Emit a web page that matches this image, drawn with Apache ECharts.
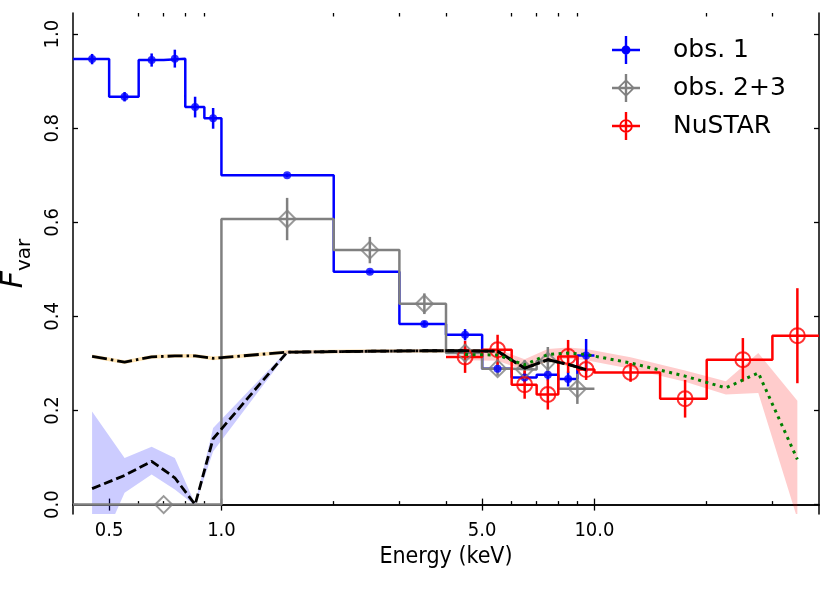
<!DOCTYPE html>
<html>
<head>
<meta charset="utf-8">
<script src="https://cdn.jsdelivr.net/npm/echarts@6/dist/echarts.min.js"></script>
<style>
html,body{margin:0;padding:0;background:#fff}
#chart{width:831px;height:591px}
</style>
</head>
<body>
<div id="chart"></div>
<script>
// obs. 1 (blue) : bin edges, bin centres, Fvar, error
const obs1Edges = [0.4, 0.5, 0.6, 0.7, 0.8, 0.9, 1, 2, 3, 4, 5, 6, 7, 8, 9, 10];
const obs1E = [0.45, 0.55, 0.65, 0.75, 0.85, 0.95, 1.5, 2.5, 3.5, 4.5, 5.5, 6.5, 7.5, 8.5, 9.5];
const obs1F = [0.947, 0.867, 0.945, 0.948, 0.845, 0.821, 0.700, 0.495, 0.384, 0.361, 0.289, 0.270, 0.276, 0.267, 0.317];
const obs1Err = [0.011, 0.010, 0.014, 0.019, 0.022, 0.022, 0.004, 0.004, 0.006, 0.012, 0.008, 0.010, 0.012, 0.016, 0.035];

// obs. 2+3 (gray)
const obs23Edges = [0.4, 1, 2, 3, 4, 5, 6, 7, 8, 10];
const obs23E = [0.7, 1.5, 2.5, 3.5, 4.5, 5.5, 6.5, 7.5, 9.0];
const obs23F = [0.0, 0.607, 0.541, 0.427, 0.322, 0.289, 0.287, 0.305, 0.246];
const obs23Err = [0.0, 0.045, 0.028, 0.022, 0.020, 0.015, 0.020, 0.030, 0.032];

// NuSTAR (red)
const nuEdges = [4, 5, 6, 7, 8, 9, 10, 15, 20, 30, 40];
const nuE = [4.5, 5.5, 6.5, 7.5, 8.5, 9.5, 12.5, 17.5, 25, 35];
const nuF = [0.314, 0.329, 0.255, 0.234, 0.315, 0.287, 0.281, 0.225, 0.308, 0.359];
const nuErr = [0.034, 0.032, 0.030, 0.032, 0.035, 0.022, 0.020, 0.040, 0.046, 0.101];

// models for the XMM bands
const modelE = [0.45, 0.55, 0.65, 0.75, 0.85, 0.95, 1.5, 2.5, 3.5, 4.5, 5.5, 6.5, 7.5, 8.5, 9.5];
const model1 = [0.315, 0.303, 0.314, 0.316, 0.316, 0.311, 0.324, 0.326, 0.327, 0.327, 0.326, 0.290, 0.308, 0.298, 0.287];
const model1Lo = [0.311, 0.299, 0.310, 0.312, 0.312, 0.307, 0.320, 0.322, 0.323, 0.323, 0.322, 0.286, 0.304, 0.294, 0.283];
const model1Hi = [0.319, 0.307, 0.318, 0.320, 0.320, 0.315, 0.328, 0.330, 0.331, 0.331, 0.330, 0.294, 0.312, 0.302, 0.291];
const model23 = [0.034, 0.062, 0.092, 0.057, 0.000, 0.140, 0.324, 0.326, 0.327, 0.327, 0.326, 0.290, 0.308, 0.298, 0.287];
const model23Lo = [-0.130, 0.025, 0.064, 0.032, -0.002, 0.113, 0.321, 0.323, 0.324, 0.324, 0.323, 0.287, 0.305, 0.295, 0.284];
const model23Hi = [0.198, 0.099, 0.123, 0.099, 0.002, 0.163, 0.327, 0.329, 0.330, 0.330, 0.329, 0.293, 0.311, 0.301, 0.290];

// NuSTAR model
const nuModelE = [4.5, 5.5, 6.5, 7.5, 8.5, 9.5, 12.5, 17.5, 22.5, 27.5, 35];
const nuModel = [0.319, 0.318, 0.297, 0.319, 0.322, 0.319, 0.301, 0.273, 0.248, 0.280, 0.096];
const nuModelLo = [0.307, 0.306, 0.285, 0.307, 0.310, 0.307, 0.289, 0.261, 0.234, 0.237, -0.030];
const nuModelHi = [0.331, 0.330, 0.309, 0.331, 0.334, 0.331, 0.313, 0.285, 0.262, 0.322, 0.221];

// axis ticks
const xLabelTicks = [0.5, 1, 5, 10];
const xMinorTicks = [0.6, 0.7, 0.8, 0.9, 2, 3, 4, 6, 7, 8, 9, 20, 30];
const yTicks = [0, 0.2, 0.4, 0.6, 0.8, 1.0];

const AX_FONT = "'DejaVu Sans Condensed', 'DejaVu Sans', sans-serif";
const grid = {left: 73, top: 13, right: 12, bottom: 77, containLabel: false, outerBoundsMode: 'none'};

function steps(edges, vals) {
  const pts = [];
  vals.forEach((v, i) => {
    pts.push([edges[i], v]);
    pts.push([edges[i + 1], v]);
  });
  return pts;
}
function pairs(xs, ys) {
  return xs.map((x, i) => [x, ys[i]]);
}
function band(xs, lo, hi, color) {
  return {
    type: 'custom', silent: true, z: 1, data: [[1, 0.5]], encode: {x: 0, y: 1},
    renderItem: function (params, api) {
      const pts = [];
      xs.forEach((x, i) => pts.push(api.coord([x, hi[i]])));
      for (let i = xs.length - 1; i >= 0; i--) pts.push(api.coord([xs[i], lo[i]]));
      const cs = params.coordSys;
      return {
        type: 'polygon', shape: {points: pts}, style: {fill: color},
        clipPath: {type: 'rect', shape: {x: cs.x, y: cs.y, width: cs.width, height: cs.height}}
      };
    }
  };
}
function errBars(xs, ys, es, color) {
  return {
    type: 'custom', silent: true, z: 3,
    data: xs.map((x, i) => [x, ys[i], es[i]]), encode: {x: 0, y: 1},
    renderItem: function (params, api) {
      const x = api.value(0), y = api.value(1), e = api.value(2);
      if (!e) return;
      const a = api.coord([x, y - e]), b = api.coord([x, y + e]);
      return {type: 'line', shape: {x1: a[0], y1: a[1], x2: b[0], y2: b[1]},
              style: {stroke: color, lineWidth: 2.5}};
    }
  };
}
function stepLine(name, edges, vals, color) {
  return {type: 'line', name: name, data: steps(edges, vals), symbol: 'none', silent: true, z: 2,
          color: color, lineStyle: {color: color, width: 2.5}};
}

// legend icons: error-bar cross plus marker
const crossPath = 'M0 12.8 H28 V15.2 H0 Z M12.8 0 H15.2 V28 H12.8 Z ';
const iconObs1 = 'path://' + crossPath + 'M9.5 14 A4.5 4.5 0 1 1 18.5 14 A4.5 4.5 0 1 1 9.5 14 Z';
const iconObs23 = 'path://' + crossPath + 'M14 5 L23 14 L14 23 L5 14 Z M14 7.4 L7.4 14 L14 20.6 L20.6 14 Z';
const iconNu = 'path://' + crossPath + 'M7.2 14 A6.8 6.8 0 1 1 20.8 14 A6.8 6.8 0 1 1 7.2 14 Z M9 14 A5 5 0 1 0 19 14 A5 5 0 1 0 9 14 Z';

const tickStyle = {color: '#000', width: 1.3};
function xAxisDef(gridIndex, position, ticks, len, labels) {
  return {
    type: 'log', gridIndex: gridIndex, position: position, min: 0.4, max: 40, logBase: 10,
    axisLine: {show: gridIndex === 0, lineStyle: {color: '#000', width: 1.5}},
    axisTick: {show: true, inside: true, length: len, customValues: ticks, lineStyle: tickStyle},
    axisLabel: labels ? {show: true, customValues: xLabelTicks, margin: 7, fontSize: 20,
                         fontFamily: AX_FONT, color: '#000', formatter: v => Number(v).toFixed(1)}
                      : {show: false},
    splitLine: {show: false},
    name: labels ? 'Energy (keV)' : '', nameLocation: 'middle', nameGap: 31,
    nameTextStyle: {fontSize: 23, fontFamily: AX_FONT, color: '#000'}
  };
}

const option = {
  animation: false,
  backgroundColor: '#fff',
  grid: [Object.assign({}, grid), Object.assign({}, grid)],
  xAxis: [
    xAxisDef(0, 'bottom', xLabelTicks, 6, true),
    xAxisDef(0, 'top', xLabelTicks, 6, false),
    xAxisDef(1, 'bottom', xMinorTicks, 3.5, false),
    xAxisDef(1, 'top', xMinorTicks, 3.5, false)
  ],
  yAxis: [
    {
      type: 'value', gridIndex: 0, position: 'left', min: -0.02, max: 1.045,
      axisLine: {show: true, lineStyle: {color: '#000', width: 1.5}},
      axisTick: {show: true, inside: true, length: 5, customValues: yTicks, lineStyle: tickStyle},
      axisLabel: {customValues: yTicks, rotate: 90, margin: 10, fontSize: 20, fontFamily: AX_FONT,
                  color: '#000', formatter: v => Number(v).toFixed(1)},
      splitLine: {show: false},
      name: '{f|F}{s|var}', nameLocation: 'middle', nameRotate: 90, nameGap: 37,
      nameTextStyle: {
        color: '#000',
        rich: {
          f: {fontSize: 30, fontStyle: 'italic', fontFamily: 'DejaVu Sans', color: '#000', verticalAlign: 'top', lineHeight: 36},
          s: {fontSize: 20, fontFamily: 'DejaVu Sans', color: '#000', verticalAlign: 'bottom', lineHeight: 36}
        }
      }
    },
    {
      type: 'value', gridIndex: 0, position: 'right', min: -0.02, max: 1.045,
      axisLine: {show: true, lineStyle: {color: '#000', width: 1.5}},
      axisTick: {show: true, inside: true, length: 5, customValues: yTicks, lineStyle: tickStyle},
      axisLabel: {show: false}, splitLine: {show: false}
    },
    {type: 'value', gridIndex: 1, min: -0.02, max: 1.045, show: false}
  ],
  legend: {
    orient: 'vertical', left: 612, top: 36, padding: 0, itemWidth: 28, itemHeight: 28, itemGap: 10,
    selectedMode: false,
    textStyle: {fontSize: 25, fontFamily: 'DejaVu Sans', color: '#000', lineHeight: 28, padding: [0, 0, 0, 28]},
    data: [
      {name: 'obs. 1', icon: iconObs1, itemStyle: {color: 'blue', borderWidth: 0}},
      {name: 'obs. 2+3', icon: iconObs23, itemStyle: {color: 'gray', borderWidth: 0}},
      {name: 'NuSTAR', icon: iconNu, itemStyle: {color: 'red', borderWidth: 0}}
    ]
  },
  series: [
    band(modelE, model23Lo, model23Hi, 'rgba(0,0,255,0.2)'),
    band(modelE, model1Lo, model1Hi, 'rgba(255,165,0,0.3)'),
    band(nuModelE, nuModelLo, nuModelHi, 'rgba(255,0,0,0.2)'),
    stepLine('obs. 1', obs1Edges, obs1F, 'blue'),
    stepLine('obs. 2+3', obs23Edges, obs23F, 'gray'),
    stepLine('NuSTAR', nuEdges, nuF, 'red'),
    errBars(obs1E, obs1F, obs1Err, 'blue'),
    errBars(obs23E, obs23F, obs23Err, 'gray'),
    errBars(nuE, nuF, nuErr, 'red'),
    {type: 'scatter', name: 'obs1 pts', data: pairs(obs1E, obs1F), symbol: 'circle', symbolSize: 8,
     silent: true, z: 4, itemStyle: {color: 'blue'}},
    {type: 'scatter', name: 'obs23 pts', data: pairs(obs23E, obs23F), symbol: 'diamond', symbolSize: 17,
     silent: true, z: 4, itemStyle: {color: 'rgba(0,0,0,0)', borderColor: 'gray', borderWidth: 2}},
    {type: 'scatter', name: 'nu pts', data: pairs(nuE, nuF), symbol: 'circle', symbolSize: 15,
     silent: true, z: 4, itemStyle: {color: 'rgba(0,0,0,0)', borderColor: 'red', borderWidth: 2}},
    {type: 'line', name: 'model 1', data: pairs(modelE, model1), symbol: 'none', silent: true, z: 5,
     lineStyle: {color: '#000', width: 2.8, type: [15, 4, 2.5, 4]}},
    {type: 'line', name: 'model 2+3', data: pairs(modelE, model23), symbol: 'none', silent: true, z: 5,
     lineStyle: {color: '#000', width: 2.8, type: [9, 4]}},
    {type: 'line', name: 'NuSTAR model', data: pairs(nuModelE, nuModel), symbol: 'none', silent: true, z: 5,
     lineStyle: {color: '#008000', width: 3, type: [3, 4.5]}}
  ]
};

const chart = echarts.init(document.getElementById('chart'), null, {renderer: 'canvas'});
chart.setOption(option);
</script>
</body>
</html>
